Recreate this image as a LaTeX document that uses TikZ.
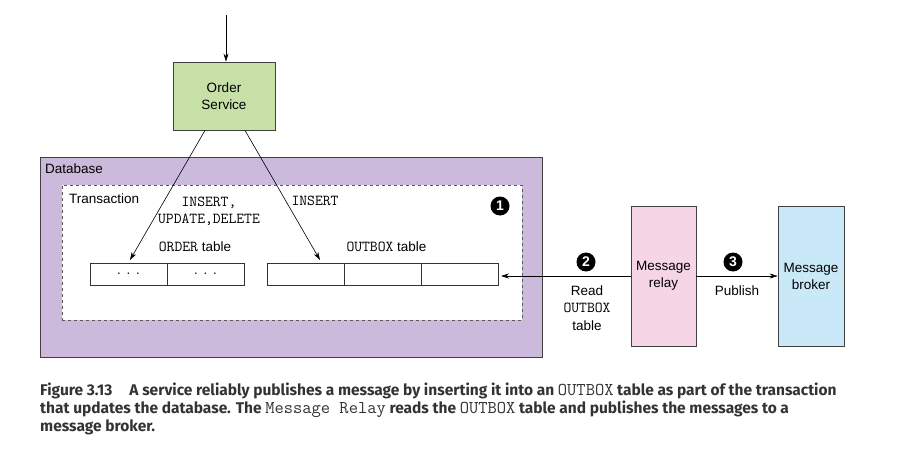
\documentclass[tikz,border=0pt]{standalone}
\usepackage{fontspec}
\setmainfont{Liberation Sans}
\newfontfamily\capfont{Fira Sans}
\usetikzlibrary{arrows.meta,calc}

\definecolor{svcgreen}{HTML}{C6E0A8}
\definecolor{dbpurple}{HTML}{CBBADB}
\definecolor{relaypink}{HTML}{F6D5E6}
\definecolor{brokerblue}{HTML}{C9E9F8}
\definecolor{capgray}{HTML}{333333}

\newcommand{\cw}[1]{{\ttfamily\fontsize{15.2}{15}\selectfont #1}}
\newcommand{\capcw}[1]{{\ttfamily\mdseries\fontsize{18}{18}\selectfont #1}}

\tikzset{
  box/.style={draw=black!75, line width=0.8pt, align=center,
    font=\fontsize{13.5}{17}\selectfont},
  cell/.style={draw=black!80, line width=0.8pt, minimum width=77pt,
    minimum height=22pt, inner sep=0pt, outer sep=0pt,
    font=\ttfamily\fontsize{14}{14}\selectfont},
  label/.style={align=center, inner sep=1pt, font=\fontsize{13.5}{17.5}\selectfont},
  code/.style={align=center, inner sep=1pt, font=\ttfamily\fontsize{15.2}{17}\selectfont},
  callout/.style={circle, fill=black, text=white, inner sep=0pt,
    minimum size=19pt, font=\bfseries\fontsize{14}{14}\selectfont},
  link/.style={-{Stealth[length=8pt,width=5pt]}, line width=0.6pt},
  capline/.style={anchor=base west, inner sep=0pt, text=capgray,
    font=\capfont\bfseries\fontsize{15.5}{18}\selectfont}
}

\begin{document}
\begin{tikzpicture}[x=1pt, y=-1pt]

  \useasboundingbox (0,0) rectangle (900,463);

  % Containers
  \node[draw=black!75, line width=0.8pt, fill=dbpurple, minimum width=502pt,
    minimum height=200pt, inner sep=0pt] (db) at (291,257) {}; %
  \node[anchor=base west, label, inner sep=0pt] (dblabel) at (45,173) {Database}; %
  \node[draw=black!65, dashed, line width=0.9pt, fill=white, minimum width=460pt,
    minimum height=135pt, inner sep=0pt] (tx) at (292,252.5) {}; %
  \node[anchor=base west, label, inner sep=0pt] (txlabel) at (69,203) {Transaction}; %

  % Service, relay and broker
  \node[box, fill=svcgreen, minimum width=102pt, minimum height=68pt]
    (svc) at (224,96) {Order\\Service}; %
  \node[box, fill=relaypink, minimum width=65pt, minimum height=140pt]
    (relay) at (663.5,276) {Message\\relay}; %
  \node[box, fill=brokerblue, minimum width=66pt, minimum height=140pt]
    (broker) at (811,276) {Message\\broker}; %
  \coordinate (entry) at (226,15); %

  % Tables
  \node[cell] (o1) at (128.5,274) {.\,.\,.}; %
  \node[cell, anchor=west] (o2) at (o1.east) {.\,.\,.}; %
  \node[cell] (x1) at (305.5,274) {}; %
  \node[cell, anchor=west] (x2) at (x1.east) {}; %
  \node[cell, anchor=west] (x3) at (x2.east) {}; %
  \node[label] (otitle) at (195,247) {\cw{ORDER} table}; %
  \node[label] (xtitle) at (386.5,247) {\cw{OUTBOX} table}; %

  % Edge labels
  \node[code] (iud) at (209,211) {INSERT,\\UPDATE,DELETE}; %
  \node[code] (ins) at (315,201) {INSERT}; %
  \node[label] (read) at (587,308) {Read\\\cw{OUTBOX}\\table}; %
  \node[label] (pub) at (737,291) {Publish}; %

  % Callouts
  \node[callout] (c1) at (500,206) {1}; %
  \node[callout] (c2) at (586,262) {2}; %
  \node[callout] (c3) at (733,262) {3}; %

  % Connections
  \coordinate (oin) at (130,260); %
  \coordinate (xin) at (320,260); %
  \draw[link] (entry) -- (svc.north -| entry); %
  \draw[link] (svc.south -| 205,0) -- (oin); %
  \draw[link] (svc.south -| 245,0) -- (xin); %
  \draw[link] (relay.west |- 0,276) -- ($(x3.east)+(3,2)$); %
  \draw[link] (relay.east |- 0,276) -- (broker.west |- 0,276); %

  % Caption
  \node[capline] (cap1) at (40,395) {Figure 3.13\hspace{1.1em}A service reliably
    publishes a message by inserting it into an \capcw{OUTBOX} table as
    part of the transaction}; %
  \node[capline] (cap2) at (40,413) {that updates the database. The
    \capcw{Message Relay} reads the \capcw{OUTBOX} table
    and publishes the messages to a}; %
  \node[capline] (cap3) at (40,431) {message broker.}; %

\end{tikzpicture}
\end{document}
